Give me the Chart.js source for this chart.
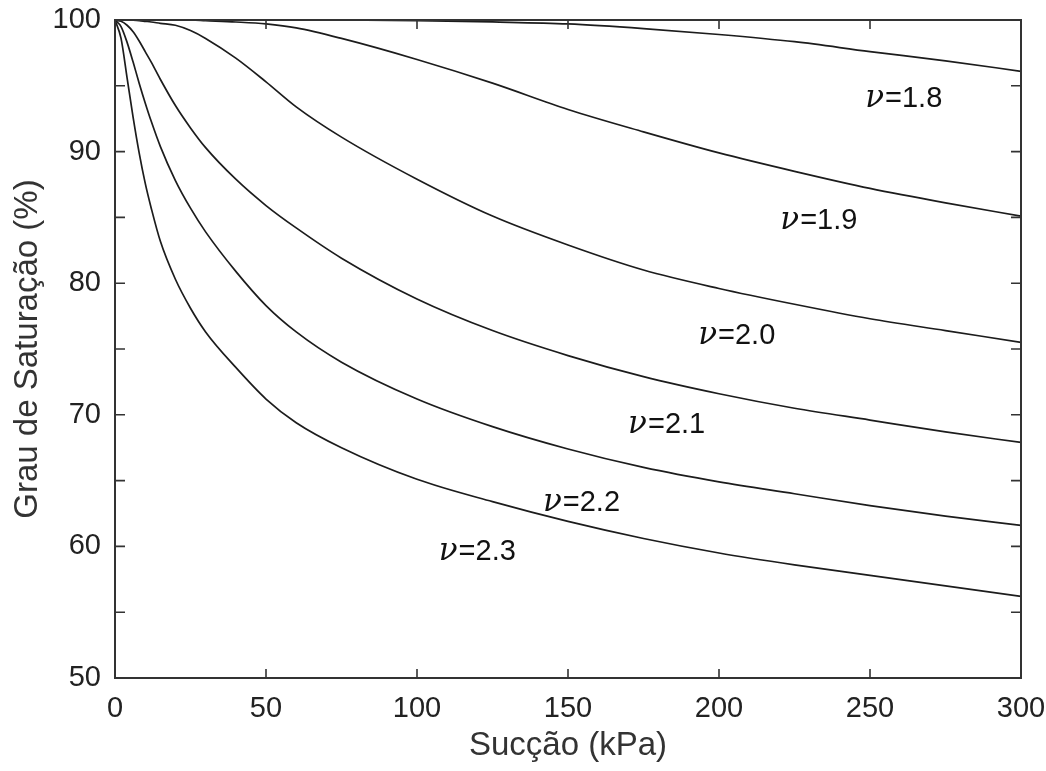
<!DOCTYPE html>
<html>
<head>
<meta charset="utf-8">
<script src="https://cdn.jsdelivr.net/npm/chart.js@4.4.1/dist/chart.umd.min.js"></script>
<style>
  body { margin: 0; background: #fff; }
  #wrap { width: 1046px; height: 771px; }
</style>
</head>
<body>
<div id="wrap"><canvas id="chart" width="1046" height="771"></canvas></div>
<script>
// suction (kPa) where each curve was read
const succao = [0, 2, 4, 6, 8, 10, 12, 15, 20, 25, 30, 40, 50, 60, 75, 100, 125, 150, 175, 200, 225, 250, 275, 300];

// degree of saturation (%) for each nu
const sat18 = [100, 100, 100, 100, 100, 100, 100, 100, 100, 100, 100, 100, 100, 100, 100, 99.95, 99.85, 99.7, 99.35, 98.9, 98.35, 97.6, 96.9, 96.1];
const sat19 = [100, 100, 100, 100, 100, 100, 100, 100, 100, 100, 99.95, 99.85, 99.7, 99.4, 98.6, 97.0, 95.2, 93.2, 91.5, 89.9, 88.5, 87.2, 86.1, 85.1];
const sat20 = [100, 100, 100, 99.98, 99.95, 99.9, 99.85, 99.75, 99.6, 99.2, 98.6, 97.1, 95.3, 93.4, 91.1, 87.9, 85.1, 82.9, 81.0, 79.6, 78.4, 77.3, 76.4, 75.5];
const sat21 = [100, 99.9, 99.6, 99.1, 98.4, 97.6, 96.8, 95.5, 93.5, 91.8, 90.3, 87.9, 85.9, 84.2, 81.9, 78.8, 76.4, 74.5, 72.9, 71.6, 70.5, 69.6, 68.7, 67.9];
const sat22 = [100, 99.5, 98.3, 96.8, 95.2, 93.7, 92.3, 90.4, 87.8, 85.7, 83.9, 80.9, 78.3, 76.3, 74.0, 71.2, 69.1, 67.4, 66.0, 64.9, 64.0, 63.1, 62.3, 61.6];
const sat23 = [100, 98.6, 95.6, 92.6, 89.9, 87.6, 85.7, 83.2, 80.3, 78.1, 76.3, 73.6, 71.2, 69.4, 67.5, 65.1, 63.4, 61.9, 60.6, 59.5, 58.6, 57.8, 57.0, 56.2];

const nuValues = ['1.8', '1.9', '2.0', '2.1', '2.2', '2.3'];
// where each nu label sits (suction, saturation) - left/baseline
const labelX = [248.4, 220.3, 193.1, 169.9, 141.7, 107.2];
const labelY = [93.4, 84.1, 75.4, 68.6, 62.7, 59.0];

const xTicks = [0, 50, 100, 150, 200, 250, 300];
const yTicks = [50, 60, 70, 80, 90, 100];

const allSat = [sat18, sat19, sat20, sat21, sat22, sat23];

const FONT = 'Arial, "Liberation Sans", sans-serif';

const frame = {
  id: 'frame',
  afterDatasetsDraw(chart) {
    const ctx = chart.ctx;
    const a = chart.chartArea;
    const xs = chart.scales.x, ys = chart.scales.y;
    ctx.save();
    ctx.strokeStyle = '#333';
    ctx.lineWidth = 2;
    ctx.strokeRect(a.left, a.top, a.right - a.left, a.bottom - a.top);
    // inward ticks
    ctx.lineWidth = 1.6;
    ctx.beginPath();
    xTicks.forEach(v => {
      const px = xs.getPixelForValue(v);
      ctx.moveTo(px, a.bottom); ctx.lineTo(px, a.bottom - 9);
      ctx.moveTo(px, a.top); ctx.lineTo(px, a.top + 9);
    });
    for (let v = 50; v <= 100; v += 5) {
      const py = ys.getPixelForValue(v);
      ctx.moveTo(a.left, py); ctx.lineTo(a.left + 10, py);
      ctx.moveTo(a.right, py); ctx.lineTo(a.right - 10, py);
    }
    ctx.stroke();

    // nu labels
    ctx.fillStyle = '#111';
    ctx.textBaseline = 'alphabetic';
    nuValues.forEach((nu, i) => {
      let px = xs.getPixelForValue(labelX[i]);
      const py = ys.getPixelForValue(labelY[i]);
      ctx.font = 'italic 31px "DejaVu Serif", serif';
      ctx.fillText('\u03BD', px, py);
      px += ctx.measureText('\u03BD').width + 1;
      ctx.font = '29px ' + FONT;
      ctx.fillText('=' + nu, px, py);
    });
    ctx.restore();
  }
};

new Chart(document.getElementById('chart'), {
  type: 'line',
  data: {
    datasets: allSat.map((arr, i) => ({
      label: '\u03BD=' + nuValues[i],
      data: succao.map((s, j) => ({ x: s, y: arr[j] })),
      borderColor: '#1c1c1c',
      borderWidth: 1.7,
      pointRadius: 0,
      fill: false,
      cubicInterpolationMode: 'monotone'
    }))
  },
  options: {
    responsive: false,
    animation: false,
    layout: { padding: { left: 0, right: 25, top: 20, bottom: 0 } },
    plugins: { legend: { display: false }, tooltip: { enabled: false } },
    scales: {
      x: {
        type: 'linear', min: 0, max: 300,
        afterBuildTicks: s => { s.ticks = xTicks.map(v => ({ value: v })); },
        afterFit: s => { s.height = 93; s.paddingLeft = 0; s.paddingRight = 0; },
        grid: { display: false, drawTicks: false },
        border: { display: false },
        ticks: { color: '#222', padding: 14, maxRotation: 0, font: { size: 29, family: FONT } },
        title: {
          display: true, text: 'Sucção (kPa)', color: '#333',
          font: { size: 33, family: FONT }, padding: { top: 0, bottom: 5 }
        }
      },
      y: {
        type: 'linear', min: 50, max: 100,
        afterBuildTicks: s => { s.ticks = yTicks.map(v => ({ value: v })); },
        afterFit: s => { s.width = 115; s.paddingTop = 0; s.paddingBottom = 0; },
        grid: { display: false, drawTicks: false },
        border: { display: false },
        ticks: { color: '#222', padding: 14, font: { size: 29, family: FONT } },
        title: {
          display: true, text: 'Grau de Saturação (%)', color: '#333',
          font: { size: 33, family: FONT }, padding: { top: 8, bottom: 0 }
        }
      }
    }
  },
  plugins: [frame]
});
</script>
</body>
</html>
